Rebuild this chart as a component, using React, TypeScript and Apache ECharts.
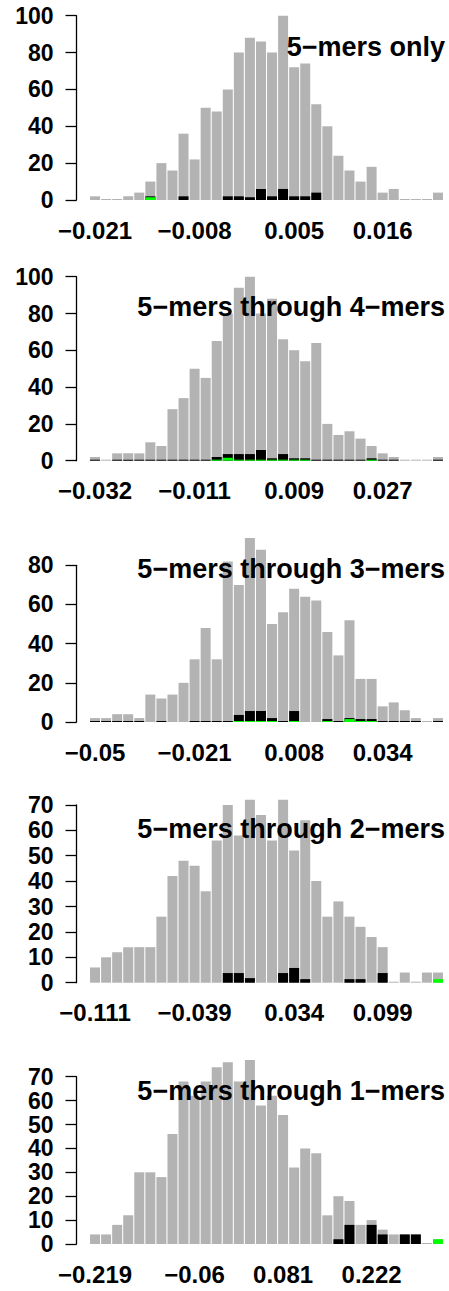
import React, { useEffect, useRef } from "react";
import * as echarts from "echarts";

// ---- data ----
const bins = Array.from({ length: 32 }, (_, i) => String(i + 1));

const titles = [
  "5−mers only",
  "5−mers through 4−mers",
  "5−mers through 3−mers",
  "5−mers through 2−mers",
  "5−mers through 1−mers",
];

const gray1 = [2, 0, 0, 2, 4, 10, 20, 16, 36, 22, 50, 48, 60, 80, 88, 86, 80, 100, 72, 74, 52, 40, 24, 16, 10, 18, 4, 6, 0, 0, 0, 4];
const black1 = [null, null, null, null, null, 2, null, null, 2, null, null, null, 2, 2, 1.5, 6, 2, 6, 2, 2, 4, null, null, null, null, null, null, null, null, null, null, null];
const green1 = [null, null, null, null, null, 1.5, null, null, null, null, null, null, null, null, null, null, null, null, null, null, null, null, null, null, null, null, null, null, null, null, null, null];

const gray2 = [2, 0, 4, 4, 4, 10, 8, 28, 34, 50, 45, 65, 80, 94, 100, 80, 88, 66, 60, 54, 64, 20, 14, 16, 12, 8, 4, 2, 0, 0, 0, 2];
const black2 = [0, null, 0, 0, 0, 0, 0, 0, 0, 0, 0, 2, 3.6, 3.6, 3.6, 5.8, 1.3, 3.6, 1.3, 1.3, 0, 0, 0, 0, 0, 1.3, 0, 0, null, null, null, 0];
const green2 = [null, null, null, null, null, null, null, null, null, null, null, 0, 1.6, 0, 0, 0, 0, 0, 0, 0, null, null, null, null, null, 0, null, null, null, null, null, null];

const gray3 = [2, 2, 4, 4, 2, 14, 12, 14, 20, 32, 48, 32, 82, 70, 94, 88, 50, 56, 68, 64, 62, 46, 34, 52, 22, 22, 8, 10, 6, 2, 0, 2];
const black3 = [0, 0, 0, 0, 0, null, 0, null, null, 0, 0, 0, 0, 3.6, 5.6, 5.6, 2, 0, 5.6, null, null, 1.5, 0, 2, 1.5, 1.5, 0, 0, 0, 0, null, 0];
const green3 = [null, null, null, null, null, null, null, null, null, null, null, null, null, 0, 0, 0, 0, null, 0, null, null, 0, null, 1.5, 0, 0, null, null, null, null, null, null];

const gray4 = [6, 10, 12, 14, 14, 14, 26, 42, 48, 46, 36, 56, 70, 58, 72, 66, 56, 72, 52, 64, 40, 26, 32, 26, 22, 18, 14, 0, 4, 0, 4, 4];
const black4 = [null, null, null, null, null, null, null, null, null, null, null, null, 3.8, 3.8, 1.8, null, null, 3.8, 5.8, 1.4, null, null, null, 1.4, 1.4, null, 3.8, null, null, null, null, null];
const green4 = [null, null, null, null, null, null, null, null, null, null, null, null, null, null, null, null, null, null, null, null, null, null, null, null, null, null, null, null, null, null, null, 1.4];

const gray5 = [4, 4, 8, 12, 30, 30, 28, 46, 68, 62, 68, 74, 76, 68, 77, 58, 62, 54, 32, 40, 38, 12, 20, 18, 8, 10, 6, 4, 4, 4, 0, 2];
const black5 = [null, null, null, null, null, null, null, null, null, null, null, null, null, null, null, null, null, null, null, null, null, null, 2, 8, null, 8, 4, null, 4, 4, null, null];
const green5 = [null, null, null, null, null, null, null, null, null, null, null, null, null, null, null, null, null, null, null, null, null, null, null, null, null, null, null, null, null, null, null, 2];

const xLabels1 = ["−0.021", "−0.008", "0.005", "0.016"];
const xLabels2 = ["−0.032", "−0.011", "0.009", "0.027"];
const xLabels3 = ["−0.05", "−0.021", "0.008", "0.034"];
const xLabels4 = ["−0.111", "−0.039", "0.034", "0.099"];
const xLabels5 = ["−0.219", "−0.06", "0.081", "0.222"];
const xLabelBins1 = [0, 9, 18, 26];
const xLabelBins2 = [0, 9, 18, 26];
const xLabelBins3 = [0, 9, 18, 26];
const xLabelBins4 = [0, 9, 18, 26];
const xLabelBins5 = [0, 9, 17, 25];

const yMax = [100, 100, 80, 70, 70];
const yStep = [20, 20, 20, 10, 10];

// ---- layout ----
const W = 449;
const H = 1291;
const GRID_LEFT = 89.5;
const AXIS_OFFSET = 13;
const panelBottom = [200, 460.7, 722, 982.7, 1244];
const panelHeight = [184.3, 184, 156.7, 177.8, 167.3];
const FONT = "'Liberation Sans', Arial, Helvetica, sans-serif";

export default function App() {
  const ref = useRef<HTMLDivElement>(null);
  useEffect(() => {
    document.body.style.margin = "0";
    if (!ref.current) return;
    const chart = echarts.init(ref.current, null, { renderer: "svg" });

    const grays = [gray1, gray2, gray3, gray4, gray5];
    const blacks = [black1, black2, black3, black4, black5];
    const greens = [green1, green2, green3, green4, green5];
    const xLabels = [xLabels1, xLabels2, xLabels3, xLabels4, xLabels5];
    const xLabelBins = [xLabelBins1, xLabelBins2, xLabelBins3, xLabelBins4, xLabelBins5];

    const grids: any[] = [];
    const xAxes: any[] = [];
    const yAxes: any[] = [];
    const series: any[] = [];
    const graphics: any[] = [];

    for (let k = 0; k < 5; k++) {
      const top = panelBottom[k] - panelHeight[k];
      grids.push({ left: GRID_LEFT, width: 354, top, height: panelHeight[k] });
      xAxes.push({
        type: "category",
        gridIndex: k,
        data: bins,
        axisLine: { show: false },
        axisTick: { show: false },
        axisLabel: {
          interval: 0,
          margin: 18,
          color: "#000",
          fontWeight: "bold",
          fontSize: 24,
          lineHeight: 24,
          fontFamily: FONT,
          formatter: (_v: string, idx: number) => {
            const p = xLabelBins[k].indexOf(idx);
            return p >= 0 ? xLabels[k][p] : "";
          },
        },
        splitLine: { show: false },
      });
      yAxes.push({
        type: "value",
        gridIndex: k,
        min: 0,
        max: yMax[k],
        interval: yStep[k],
        offset: AXIS_OFFSET,
        axisLine: { show: true, onZero: false, lineStyle: { color: "#000", width: 1.3 } },
        axisTick: { show: true, length: 11, lineStyle: { color: "#000", width: 1.3 } },
        axisLabel: {
          margin: 23,
          color: "#000",
          fontWeight: "bold",
          fontSize: 23,
          fontFamily: FONT,
        },
        splitLine: { show: false },
      });
      const common = {
        type: "bar",
        xAxisIndex: k,
        yAxisIndex: k,
        barWidth: 10,
        barGap: "-100%",
        barMinHeight: 1,
        clip: false,
        silent: true,
      };
      series.push({ ...common, name: "all" + k, data: grays[k], itemStyle: { color: "#B3B3B3" } });
      series.push({ ...common, name: "black" + k, data: blacks[k], itemStyle: { color: "#000000" } });
      series.push({ ...common, name: "green" + k, data: greens[k], itemStyle: { color: "#00FF00" } });
      graphics.push({
        type: "text",
        x: 445,
        y: panelBottom[k] - 153.5,
        z: 100,
        silent: true,
        style: {
          text: titles[k],
          fill: "#000",
          font: "bold 27px " + FONT,
          align: "right",
          verticalAlign: "middle",
        },
      });
    }

    chart.setOption({
      animation: false,
      backgroundColor: "#ffffff",
      textStyle: { fontFamily: FONT },
      grid: grids,
      xAxis: xAxes,
      yAxis: yAxes,
      series,
      graphic: graphics,
    });

    return () => chart.dispose();
  }, []);
  return (
    <div
      ref={ref}
      style={{ position: "fixed", left: 0, top: 0, width: W, height: H, background: "#fff" }}
    />
  );
}
